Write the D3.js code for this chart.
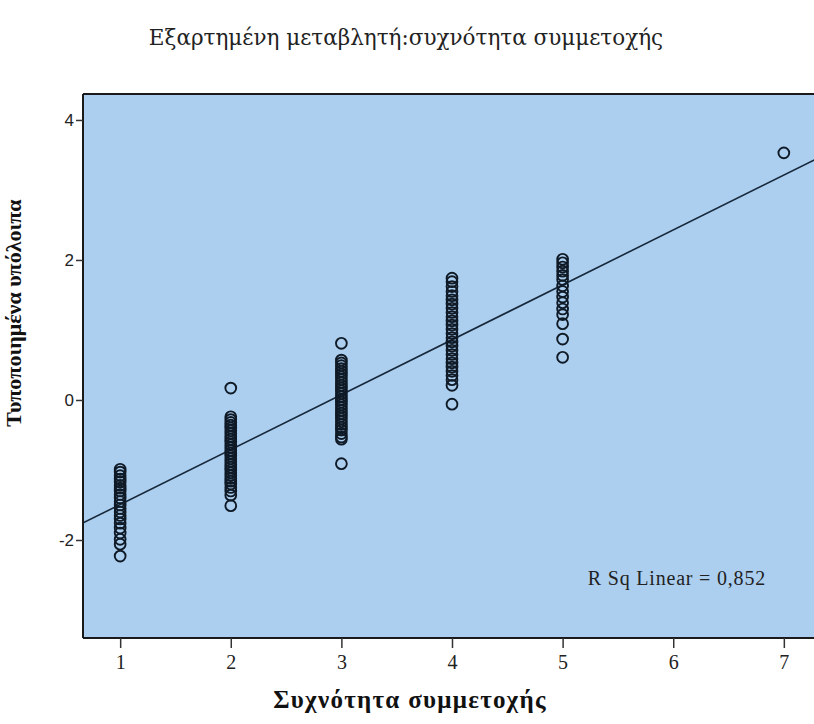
<!DOCTYPE html>
<html>
<head>
<meta charset="utf-8">
<script src="https://cdn.jsdelivr.net/npm/d3@7"></script>
<style>
  html, body { margin: 0; padding: 0; background: #ffffff; overflow: hidden; }
  svg { display: block; }
</style>
</head>
<body>
<script>
// ---- data ----
const titleText = "Εξαρτημένη μεταβλητή:συχνότητα συμμετοχής";
const xAxisTitle = "Συχνότητα συμμετοχής";
const yAxisTitle = "Τυποποιημένα υπόλοιπα";
const rsqText = "R Sq Linear = 0,852";

const xTicks = [1, 2, 3, 4, 5, 6, 7];
const yTicks = [-2, 0, 2, 4];

const resid1 = [-0.99, -1.03, -1.08, -1.13, -1.17, -1.22, -1.26, -1.30, -1.35, -1.40, -1.45, -1.50, -1.55, -1.60, -1.65, -1.70, -1.76, -1.83, -1.90, -1.99, -2.06, -2.23];
const resid2 = [0.17, -0.24, -0.28, -0.32, -0.36, -0.40, -0.44, -0.48, -0.52, -0.56, -0.60, -0.64, -0.68, -0.72, -0.76, -0.80, -0.84, -0.88, -0.92, -0.96, -1.00, -1.04, -1.08, -1.12, -1.16, -1.20, -1.25, -1.30, -1.36, -1.51];
const resid3 = [0.81, 0.57, 0.53, 0.49, 0.45, 0.41, 0.37, 0.33, 0.29, 0.25, 0.21, 0.17, 0.13, 0.09, 0.05, 0.01, -0.03, -0.07, -0.11, -0.15, -0.19, -0.23, -0.27, -0.31, -0.35, -0.39, -0.43, -0.48, -0.53, -0.56, -0.91];
const resid4 = [1.74, 1.69, 1.62, 1.55, 1.49, 1.43, 1.37, 1.31, 1.25, 1.19, 1.13, 1.07, 1.01, 0.95, 0.89, 0.83, 0.77, 0.71, 0.65, 0.59, 0.53, 0.47, 0.41, 0.35, 0.29, 0.21, -0.06];
const resid5 = [2.01, 1.96, 1.90, 1.84, 1.78, 1.72, 1.63, 1.55, 1.47, 1.39, 1.30, 1.22, 1.09, 0.87, 0.61];
const resid7 = [3.53];

const groups = [
  { x: 1, ys: resid1 },
  { x: 2, ys: resid2 },
  { x: 3, ys: resid3 },
  { x: 4, ys: resid4 },
  { x: 5, ys: resid5 },
  { x: 7, ys: resid7 }
];

// fit line endpoints (x, y)
const fitX = [0.66, 7.34];
const fitY = [-1.76, 3.48];

// ---- layout ----
const W = 814, H = 724;
const plot = { left: 83, top: 94, right: 821, bottom: 638 };

const x = d3.scaleLinear().domain([0.664, 7.336]).range([plot.left, plot.right]);
const y = d3.scaleLinear().domain([-3.4, 4.371]).range([plot.bottom, plot.top]);

const svg = d3.select("body").append("svg").attr("width", W).attr("height", H);

svg.append("clipPath").attr("id", "pclip")
  .append("rect").attr("x", plot.left).attr("y", plot.top)
  .attr("width", plot.right - plot.left).attr("height", plot.bottom - plot.top);

svg.append("rect")
  .attr("x", plot.left).attr("y", plot.top)
  .attr("width", plot.right - plot.left).attr("height", plot.bottom - plot.top)
  .attr("fill", "#accff0");

// fit line
const g = svg.append("g").attr("clip-path", "url(#pclip)");
g.append("path")
  .datum(fitX.map((v, i) => [v, fitY[i]]))
  .attr("d", d3.line().x(d => x(d[0])).y(d => y(d[1])))
  .attr("fill", "none").attr("stroke", "#17283a").attr("stroke-width", 1.6);

// points
const pts = groups.flatMap(gr => gr.ys.map(v => ({ x: gr.x, y: v })));
g.selectAll("circle.pt").data(pts).enter().append("circle")
  .attr("class", "pt")
  .attr("cx", d => x(d.x)).attr("cy", d => y(d.y))
  .attr("r", 5.4)
  .attr("fill", "none").attr("stroke", "#0f1a26").attr("stroke-width", 1.9);

// axes
const fmt = d => String(d);
const xAxis = d3.axisBottom(x).tickValues(xTicks).tickSize(10).tickSizeOuter(0).tickFormat(fmt);
const gx = svg.append("g").attr("transform", `translate(0,${plot.bottom})`).call(xAxis);
gx.select(".domain").attr("stroke", "#1a1a1a").attr("stroke-width", 2)
  .attr("d", `M${plot.left},0H${plot.right}`);
gx.selectAll(".tick line").attr("stroke", "#333").attr("stroke-width", 1.5);
gx.selectAll(".tick text").attr("font-family", "'Liberation Serif', 'Times New Roman', serif")
  .attr("font-size", 20).attr("fill", "#222").attr("dy", "0.9em");

const yAxis = d3.axisLeft(y).tickValues(yTicks).tickSize(7).tickSizeOuter(0).tickFormat(fmt);
const gy = svg.append("g").attr("transform", `translate(${plot.left},0)`).call(yAxis);
gy.select(".domain").attr("stroke", "#1a1a1a").attr("stroke-width", 2)
  .attr("d", `M0,${plot.top}V${plot.bottom}`);
gy.selectAll(".tick line").attr("stroke", "#333").attr("stroke-width", 1.5);
gy.selectAll(".tick text").attr("font-family", "'Liberation Sans', Arial, sans-serif")
  .attr("font-size", 17).attr("fill", "#222").attr("x", -9);

// top border
svg.append("line").attr("x1", plot.left).attr("x2", plot.right)
  .attr("y1", plot.top).attr("y2", plot.top)
  .attr("stroke", "#1a1a1a").attr("stroke-width", 2);

// texts
svg.append("text").attr("x", 406).attr("y", 45).attr("text-anchor", "middle")
  .attr("font-family", "'DejaVu Serif', serif")
  .attr("font-size", 21.5).attr("fill", "#222").text(titleText);

svg.append("text").attr("x", 410).attr("y", 708).attr("text-anchor", "middle")
  .attr("font-family", "'Liberation Serif', 'Times New Roman', serif")
  .attr("font-weight", "bold").attr("font-size", 25).attr("letter-spacing", 1.3)
  .attr("fill", "#111").text(xAxisTitle);

svg.append("text")
  .attr("transform", `translate(21,${313}) rotate(-90)`)
  .attr("text-anchor", "middle")
  .attr("font-family", "'Liberation Serif', 'Times New Roman', serif")
  .attr("font-weight", "bold").attr("font-size", 22).attr("fill", "#111").text(yAxisTitle);

svg.append("text").attr("x", 766).attr("y", 585).attr("text-anchor", "end")
  .attr("font-family", "'Liberation Serif', 'Times New Roman', serif")
  .attr("font-size", 20).attr("letter-spacing", 0.8).attr("fill", "#222").text(rsqText);
</script>
</body>
</html>
